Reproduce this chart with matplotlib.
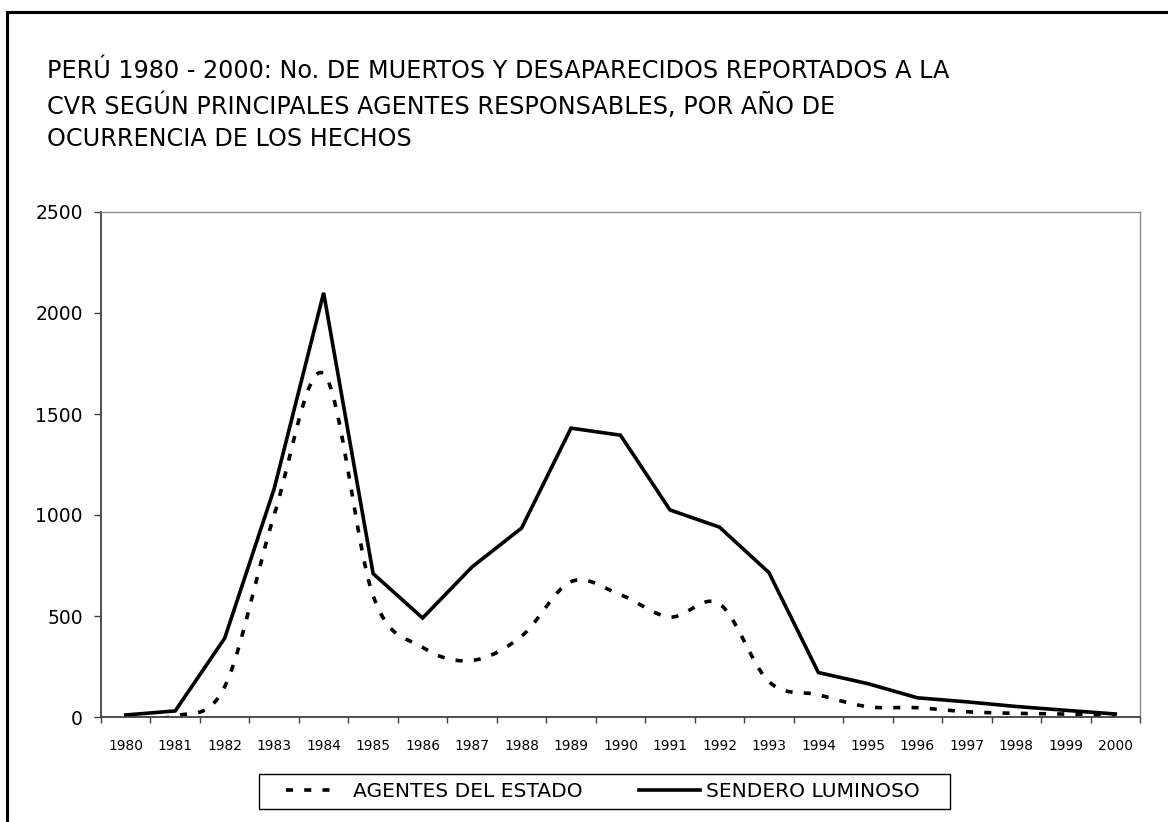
import numpy as np
import matplotlib
matplotlib.use("Agg")
import matplotlib.pyplot as plt
from matplotlib.patches import Rectangle
from matplotlib.lines import Line2D

plt.rcParams['font.family'] = ['DejaVu Sans']

years = [str(y) for y in range(1980, 2001)]
agentes_estado = [3, 5, 150, 1000, 1700, 600, 345, 280, 400, 670, 605, 495, 560, 175, 110, 51, 46, 26, 18, 15, 6]
sendero = [10, 30, 390, 1130, 2100, 710, 490, 743, 935, 1430, 1395, 1025, 940, 715, 220, 165, 95, 75, 52, 33, 15]
yticks = [0, 500, 1000, 1500, 2000, 2500]
title = ("PERÚ 1980 - 2000: No. DE MUERTOS Y DESAPARECIDOS REPORTADOS A LA\n"
         "CVR SEGÚN PRINCIPALES AGENTES RESPONSABLES, POR AÑO DE\n"
         "OCURRENCIA DE LOS HECHOS")
labels = ["AGENTES DEL ESTADO", "SENDERO LUMINOSO"]


def smooth(xs, ys, n=20):
    # Bezier smoothing through the points (like Excel "smoothed line")
    xs = np.asarray(xs, float)
    ys = np.asarray(ys, float)
    px = np.concatenate([[xs[0]], xs, [xs[-1]]])
    py = np.concatenate([[ys[0]], ys, [ys[-1]]])
    outx, outy = [], []
    for i in range(1, len(px) - 2):
        p0, p1, p2, p3 = (np.array([px[j], py[j]]) for j in (i - 1, i, i + 1, i + 2))
        c1 = p1 + (p2 - p0) / 6.0
        c2 = p2 - (p3 - p1) / 6.0
        t = np.linspace(0, 1, n, endpoint=(i == len(px) - 3))
        pts = ((1 - t) ** 3)[:, None] * p1 + (3 * (1 - t) ** 2 * t)[:, None] * c1 + \
              (3 * (1 - t) * t ** 2)[:, None] * c2 + (t ** 3)[:, None] * p2
        outx.extend(pts[:, 0])
        outy.extend(pts[:, 1])
    return np.array(outx), np.array(outy)


W, H = 1168, 822
fig = plt.figure(figsize=(W / 100, H / 100), dpi=100)
ax = fig.add_axes([101 / W, 1 - 717 / H, (1140 - 101) / W, (717 - 212) / H])

LW = 2.6
dash_style = (0, (1.95, 3.1))
x = np.arange(len(years))
sx, sy = smooth(x, agentes_estado)
ax.plot(sx, sy, color='black', lw=LW, linestyle=dash_style, dash_capstyle='butt')
ax.plot(x, sendero, color='black', lw=LW, solid_joinstyle='miter')

ax.set_xlim(-0.5, len(years) - 0.5)
ax.set_ylim(0, 2500)
ax.set_yticks(yticks)
ax.set_yticklabels([str(v) for v in yticks], fontsize=13.5)
ax.set_xticks(x)
ax.set_xticklabels(years, fontsize=9.9)
ax.set_xticks(np.arange(-0.5, len(years)), minor=True)
ax.tick_params(axis='x', which='major', length=0, pad=16)
ax.tick_params(axis='x', which='minor', length=4, color='#404040', width=1)
ax.tick_params(axis='y', length=5, color='#404040', width=1, pad=8)
for s in ['top', 'right']:
    ax.spines[s].set_color('#8c8c8c')
    ax.spines[s].set_linewidth(1)
for s in ['left', 'bottom']:
    ax.spines[s].set_color('#404040')
    ax.spines[s].set_linewidth(1.3)

fig.text(47 / W, 1 - 59 / H, title, fontsize=17.2, va='top', ha='left', linespacing=1.42)

# outer chart border (extends past right/bottom edges like the reference)
fig.patches.append(Rectangle((7 / W, -0.1), 1.2, 1 - 12 / H + 0.1, transform=fig.transFigure,
                             fill=False, edgecolor='black', lw=2.2))

# legend
fs_leg = 14.6
em = fs_leg * 100 / 72
handles = [Line2D([0], [0], color='black', lw=LW, dash_capstyle='butt',
                  linestyle=(0, (1.95, 3.1, 1.95, 3.1, 1.95, 9.0))),
           Line2D([0], [0], color='black', lw=LW)]
leg = fig.legend(handles, labels, loc='center', bbox_to_anchor=(603 / W, 1 - 791.5 / H),
                 ncol=2, fontsize=fs_leg, frameon=False,
                 handlelength=61 / em, handletextpad=6 / em, columnspacing=57 / em,
                 borderpad=0, borderaxespad=0)
fig.patches.append(Rectangle((259 / W, 1 - 809 / H), (950 - 259) / W, 35 / H,
                             transform=fig.transFigure, fill=False, edgecolor='black', lw=1))

fig.savefig('out.png', dpi=100, facecolor='white')
